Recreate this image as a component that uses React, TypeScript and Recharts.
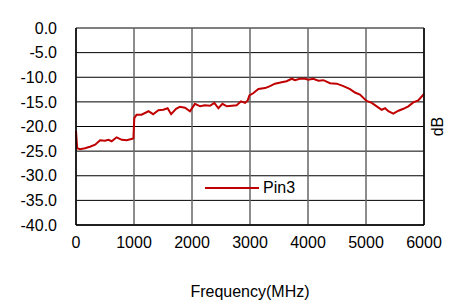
import React from 'react';
import { LineChart, Line, XAxis, YAxis, CartesianGrid } from 'recharts';

const freqs = [0, 20, 70, 155, 240, 330, 415, 500, 560, 615, 700, 790, 875, 970, 990, 1005, 1045, 1130, 1250, 1330, 1420, 1505, 1580, 1640, 1725, 1790, 1880, 1965, 2050, 2140, 2220, 2310, 2385, 2455, 2525, 2600, 2685, 2770, 2845, 2915, 2960, 2990, 3060, 3145, 3260, 3345, 3430, 3545, 3630, 3720, 3775, 3860, 3950, 4005, 4090, 4180, 4265, 4380, 4495, 4610, 4725, 4810, 4895, 5010, 5100, 5185, 5270, 5330, 5385, 5470, 5560, 5645, 5730, 5815, 5900, 6000];
const pin3 = [-20.9, -24.4, -24.6, -24.4, -24.1, -23.7, -22.8, -22.9, -22.7, -23.0, -22.2, -22.7, -22.8, -22.5, -22.4, -18.3, -17.6, -17.6, -16.9, -17.5, -16.7, -16.6, -16.3, -17.5, -16.4, -16.0, -16.2, -16.9, -15.4, -15.9, -15.7, -15.8, -15.2, -16.3, -15.4, -15.9, -15.8, -15.7, -14.9, -15.2, -14.7, -13.7, -13.2, -12.4, -12.2, -11.8, -11.3, -11.0, -10.8, -10.3, -10.6, -10.3, -10.3, -10.5, -10.3, -10.7, -10.6, -11.2, -11.3, -11.8, -12.4, -13.1, -13.5, -14.8, -15.2, -15.9, -16.6, -16.3, -16.9, -17.4, -16.8, -16.4, -15.9, -15.1, -14.7, -13.4];
const xTicks = [0, 1000, 2000, 3000, 4000, 5000, 6000];
const yTicks = [-40, -35, -30, -25, -20, -15, -10, -5, 0];
const seriesName = 'Pin3';
const xTitle = 'Frequency(MHz)';
const yTitle = 'dB';

const data = freqs.map((f, i) => ({ f, v: pin3[i] }));

const FONT = "Arial, 'Liberation Sans', sans-serif";
const RED = '#c00000';

export default function App() {
  return (
    <div style={{ position: 'absolute', left: 0, top: 0, width: 457, height: 300 }}>
      <LineChart width={457} height={300} data={data} margin={{ top: 28, right: 0, bottom: 0, left: 0 }}>
        <CartesianGrid yAxisId="l" vertical={false} stroke="#000" strokeWidth={1} />
        <CartesianGrid yAxisId="l" horizontal={false} stroke="#666" strokeWidth={1.5} />
        <XAxis
          dataKey="f"
          type="number"
          domain={[0, 6000]}
          ticks={xTicks}
          height={75}
          tickLine={false}
          tickMargin={6}
          axisLine={{ stroke: '#000', strokeWidth: 1.5 }}
          tick={{ fill: '#000', fontSize: 16, fontFamily: FONT }}
          interval={0}
          label={{ value: xTitle, position: 'insideBottom', offset: 3, fill: '#000', fontSize: 16, fontFamily: FONT }}
        />
        <YAxis
          yAxisId="l"
          type="number"
          domain={[-40, 0]}
          ticks={yTicks}
          width={76}
          tickLine={false}
          tickMargin={13}
          axisLine={{ stroke: '#000', strokeWidth: 1.5 }}
          tick={{ fill: '#000', fontSize: 16, fontFamily: FONT }}
          tickFormatter={(v: number) => v.toFixed(1)}
          interval={0}
        />
        <YAxis
          yAxisId="r"
          orientation="right"
          type="number"
          domain={[-40, 0]}
          width={33}
          tick={false}
          tickLine={false}
          axisLine={{ stroke: '#000', strokeWidth: 1.5 }}
          label={{ value: yTitle, angle: -90, position: 'center', dx: -3, fill: '#000', fontSize: 16, fontFamily: FONT }}
        />
        <Line
          yAxisId="l"
          type="linear"
          dataKey="v"
          name={seriesName}
          stroke={RED}
          strokeWidth={2}
          dot={false}
          isAnimationActive={false}
        />
      </LineChart>
      <div style={{ position: 'absolute', left: 205, top: 178, display: 'flex', alignItems: 'center', fontFamily: FONT, fontSize: 16, color: '#000', lineHeight: '20px' }}>
        <svg width={54} height={4} style={{ display: 'block' }}>
          <line x1={0} y1={2} x2={54} y2={2} stroke={RED} strokeWidth={2} />
        </svg>
        <span style={{ marginLeft: 4 }}>{seriesName}</span>
      </div>
    </div>
  );
}
